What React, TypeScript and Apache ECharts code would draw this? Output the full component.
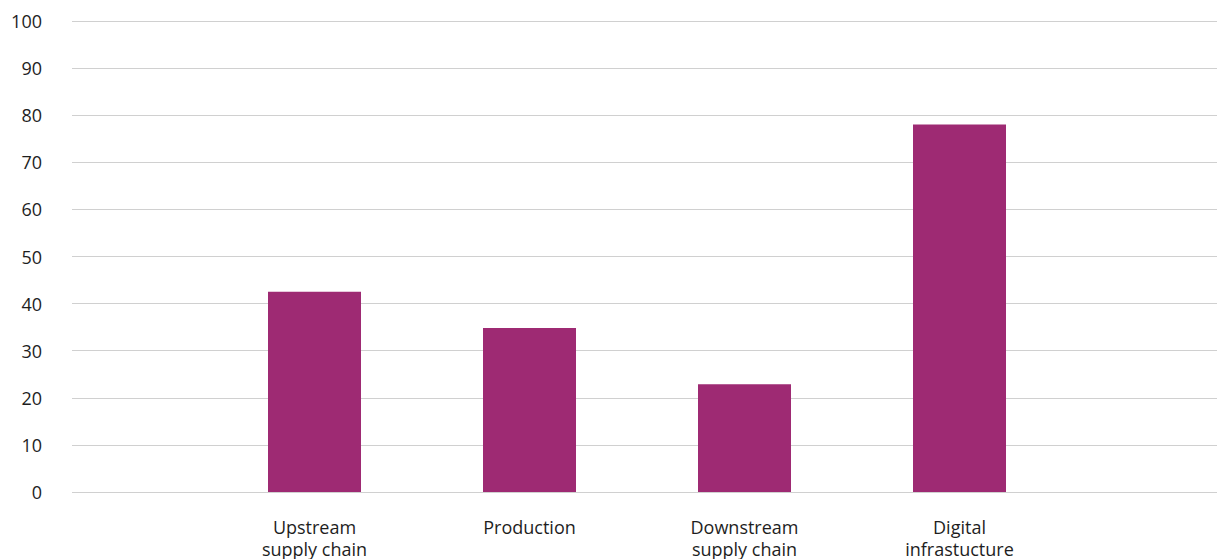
import React, { useEffect, useRef } from "react";
import * as echarts from "echarts";

const categories = ["Upstream\nsupply chain", "Production", "Downstream\nsupply chain", "Digital\ninfrastucture"];
const values = [42.5, 34.8, 22.9, 78];
const yTicks = { min: 0, max: 100, interval: 10 };

const FONT = "'Open Sans', sans-serif";
const TEXT = "#1e1e1e";

export default function App() {
  const ref = useRef<HTMLDivElement>(null);
  useEffect(() => {
    const chart = echarts.init(ref.current!, null, { renderer: "svg" });
    chart.setOption({
      animation: false,
      grid: [
        { left: 72, right: 0, top: 21, bottom: 67, outerBoundsMode: "none", containLabel: false },
        { left: 207, right: 150, top: 21, bottom: 67, outerBoundsMode: "none", containLabel: false },
      ],
      xAxis: [
        { type: "value", gridIndex: 0, min: 0, max: 1, show: false },
        {
          type: "category",
          gridIndex: 1,
          data: categories,
          axisLine: { show: false },
          axisTick: { show: false },
          axisLabel: {
            color: TEXT,
            fontFamily: FONT,
            fontSize: 18,
            lineHeight: 22,
            margin: 24,
            interval: 0,
          },
        },
      ],
      yAxis: [
        {
          type: "value",
          gridIndex: 0,
          min: yTicks.min,
          max: yTicks.max,
          interval: yTicks.interval,
          axisLine: { show: false },
          axisTick: { show: false },
          axisLabel: { color: TEXT, fontFamily: FONT, fontSize: 18, margin: 30 },
          splitLine: { lineStyle: { color: "#d0d0d0", width: 1 } },
        },
        {
          type: "value",
          gridIndex: 1,
          min: yTicks.min,
          max: yTicks.max,
          interval: yTicks.interval,
          show: false,
          splitLine: { show: false },
        },
      ],
      series: [
        {
          type: "bar",
          xAxisIndex: 1,
          yAxisIndex: 1,
          data: values,
          barWidth: 93,
          itemStyle: { color: "#9e2a73" },
        },
      ],
    });
    return () => chart.dispose();
  }, []);
  return <div ref={ref} style={{ width: 1217, height: 559, position: "absolute", left: 0, top: 0 }} />;
}
